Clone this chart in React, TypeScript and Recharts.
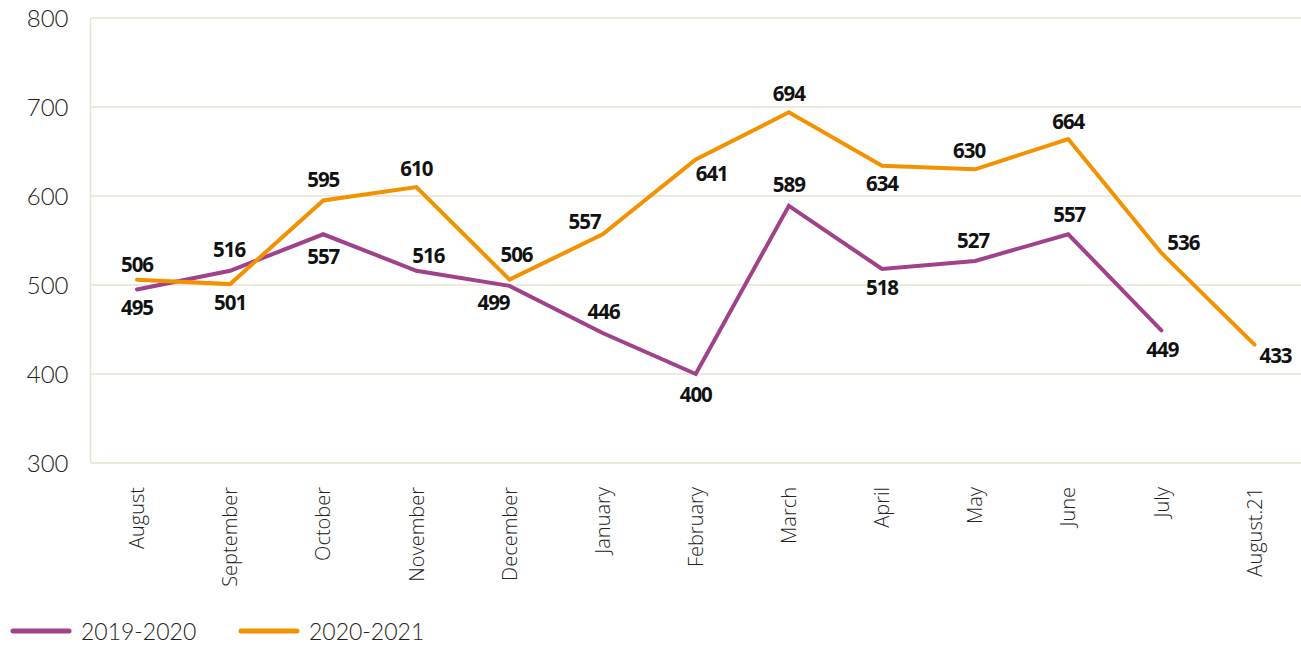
import React from "react";
import { LineChart, Line, XAxis, YAxis, CartesianGrid, Legend } from "recharts";

const months = ["August", "September", "October", "November", "December", "January", "February", "March", "April", "May", "June", "July", "August.21"];
const series1920: (number | null)[] = [495, 516, 557, 516, 499, 446, 400, 589, 518, 527, 557, 449, null];
const series2021: number[] = [506, 501, 595, 610, 506, 557, 641, 694, 634, 630, 664, 536, 433];
const yTicks = [300, 400, 500, 600, 700, 800];
const seriesNames = ["2019-2020", "2020-2021"];

// label placement (dx, dy) relative to each point
const purpleLabelOffsets = [[0, 18], [-1, -21], [0, 22], [12, -15], [-16, 17], [1, -21], [0, 21], [0, -21], [0, 19], [-2, -20], [1, -20], [1, 19], [0, 0]];
const orangeLabelOffsets = [[0, -15], [0, 19], [0, -21], [0, -18], [7, -25], [-18, -13], [16, 14], [0, -19], [0, 18], [-6, -19], [0, -17], [22, -10], [21, 11]];

const PURPLE = "#a0418b";
const ORANGE = "#f39200";
const GRID = "#e5e3d3";

const data = months.map((m, i) => ({ month: m, a: series1920[i], b: series2021[i] }));

const makeLabel = (offsets: number[][]) => (props: any) => {
  const { x, y, value, index } = props;
  if (value == null) return null;
  const [dx, dy] = offsets[index] || [0, -15];
  return (
    <text x={x + dx} y={y + dy} dy="0.36em" textAnchor="middle" fontFamily="'Open Sans', sans-serif" fontWeight={700} fontSize={20.5} fill="#111" letterSpacing={-1}>
      {value}
    </text>
  );
};

const XTick = (props: any) => {
  const { x, y, payload } = props;
  return (
    <text x={x} y={y} dy="0.36em" transform={`rotate(-90, ${x}, ${y})`} textAnchor="end" fontFamily="'Open Sans', sans-serif" fontWeight={300} fontSize={20} fill="#222">
      {payload.value}
    </text>
  );
};

const LegendContent = () => (
  <div style={{ height: 40, position: "relative", fontFamily: "'Lato', sans-serif", fontWeight: 300, fontSize: 23, color: "#222" }}>
    {[PURPLE, ORANGE].map((c, i) => (
      <div key={i} style={{ position: "absolute", left: i === 0 ? 10 : 238, top: 14, display: "flex", alignItems: "center" }}>
        <svg width={62} height={8} style={{ display: "block" }}>
          <line x1={3} y1={4} x2={59} y2={4} stroke={c} strokeWidth={5} strokeLinecap="round" />
        </svg>
        <span style={{ marginLeft: 9, lineHeight: "24px" }}>{seriesNames[i]}</span>
      </div>
    ))}
  </div>
);

export default function App() {
  return (
    <div style={{ position: "absolute", left: 0, top: 0, width: 1301, height: 645, background: "#fff" }}>
      <LineChart width={1301} height={645} data={data} margin={{ top: 18, right: 0, left: 0, bottom: 0 }}>
        <CartesianGrid vertical={false} stroke={GRID} strokeWidth={1.5} />
        <XAxis dataKey="month" interval={0} axisLine={false} tickLine={false} tick={<XTick />} height={142} tickSize={6} tickMargin={18} padding={{ left: 46.5, right: 46.5 }} />
        <YAxis domain={[300, 800]} ticks={yTicks} width={90.5} axisLine={{ stroke: GRID, strokeWidth: 1.5 }} tickLine={false} tickSize={6} tickMargin={16}
          tick={{ fill: "#222", fontSize: 24, fontWeight: 300, fontFamily: "'Lato', sans-serif" }} />
        <Legend verticalAlign="bottom" content={<LegendContent />} />
        <Line dataKey="a" name={seriesNames[0]} stroke={PURPLE} strokeWidth={4} dot={false} isAnimationActive={false} label={makeLabel(purpleLabelOffsets)} strokeLinecap="round" />
        <Line dataKey="b" name={seriesNames[1]} stroke={ORANGE} strokeWidth={4} dot={false} isAnimationActive={false} label={makeLabel(orangeLabelOffsets)} strokeLinecap="round" />
      </LineChart>
    </div>
  );
}
